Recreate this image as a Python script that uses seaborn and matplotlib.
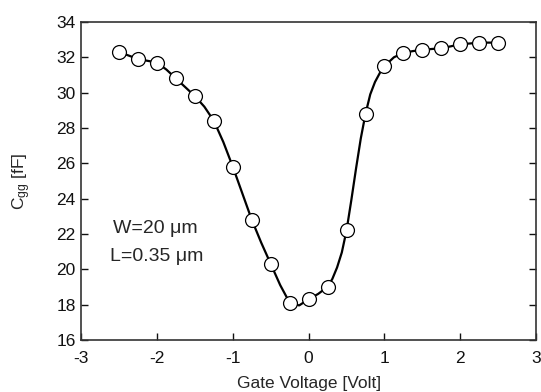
import matplotlib
matplotlib.use("Agg")
import matplotlib.pyplot as plt
import seaborn as sns
import pandas as pd

# measured points (gate voltage in V, Cgg in fF)
vg = [-2.5, -2.25, -2.0, -1.75, -1.5, -1.25, -1.0, -0.75, -0.5, -0.25, 0.0,
      0.25, 0.5, 0.75, 1.0, 1.25, 1.5, 1.75, 2.0, 2.25, 2.5]
cgg = [32.3, 31.9, 31.7, 30.8, 29.8, 28.4, 25.8, 22.8, 20.3, 18.1, 18.3,
       19.0, 22.2, 28.8, 31.5, 32.25, 32.42, 32.51, 32.74, 32.83, 32.83]

# smooth model curve
vg_fit = [-2.5, -2.375, -2.25, -2.125, -2.0, -1.875, -1.75, -1.625, -1.5, -1.375,
          -1.25, -1.125, -1.0, -0.875, -0.75, -0.625, -0.5, -0.375, -0.25, -0.125,
          0.0, 0.125, 0.25, 0.3125, 0.375, 0.4375, 0.5, 0.5625, 0.625, 0.6875,
          0.75, 0.8125, 0.875, 0.9375, 1.0, 1.125, 1.25,
          1.375, 1.5, 1.625, 1.75, 1.875, 2.0, 2.125, 2.25, 2.375, 2.5]
cgg_fit = [32.3, 32.1, 31.9, 31.8, 31.7, 31.3, 30.8, 30.3, 29.8, 29.2,
           28.4, 27.2, 25.8, 24.3, 22.8, 21.5, 20.3, 19.1, 18.1, 17.95,
           18.3, 18.6, 19.0, 19.45, 20.1, 20.95, 22.2, 23.9, 25.7, 27.4,
           28.8, 29.9, 30.6, 31.1, 31.5, 32.0, 32.25,
           32.35, 32.42, 32.47, 32.51, 32.62, 32.74, 32.78, 32.83, 32.83, 32.83]

points = pd.DataFrame({"vg": vg, "cgg": cgg})
curve = pd.DataFrame({"vg": vg_fit, "cgg": cgg_fit})

sns.set_theme(style="ticks")
plt.rcParams['font.family'] = ['Liberation Sans', 'DejaVu Sans']
plt.rcParams['mathtext.fontset'] = 'custom'
plt.rcParams['mathtext.rm'] = 'Liberation Sans'
plt.rcParams['mathtext.it'] = 'Liberation Sans'
plt.rcParams['axes.unicode_minus'] = False

fig, ax = plt.subplots(figsize=(5.41, 3.92), dpi=100)
fig.subplots_adjust(left=0.15, right=0.991, top=0.944, bottom=0.133)

sns.lineplot(x='vg', y='cgg', data=curve, sort=False, color='black',
             linewidth=1.6, ax=ax, zorder=2)
sns.scatterplot(x='vg', y='cgg', data=points, s=100, facecolor='white',
                edgecolor='black', linewidth=0.9, ax=ax, zorder=3)

ax.set_xlim(-3, 3)
ax.set_ylim(16, 34)
ax.set_xticks([-3, -2, -1, 0, 1, 2, 3])
ax.set_yticks(range(16, 35, 2))
ax.tick_params(direction='in', length=5, width=1, labelsize=12.5,
               colors='#111111', right=True, top=False)
ax.tick_params(axis='x', pad=8)
ax.tick_params(axis='y', pad=4)
for sp in ax.spines.values():
    sp.set_color('#333333')
    sp.set_linewidth(1.2)

ax.set_xlabel('Gate Voltage [Volt]', fontsize=12.5, labelpad=7)
ax.set_ylabel(r'C$_{\mathrm{gg}}$ [fF]', fontsize=12.5, labelpad=17)

ax.text(-2.02, 22.3, 'W=20 \u03bcm', fontsize=14, ha='center', va='center')
ax.text(-2.0, 20.7, 'L=0.35 \u03bcm', fontsize=14, ha='center', va='center')

plt.savefig('out.png', dpi=100)
